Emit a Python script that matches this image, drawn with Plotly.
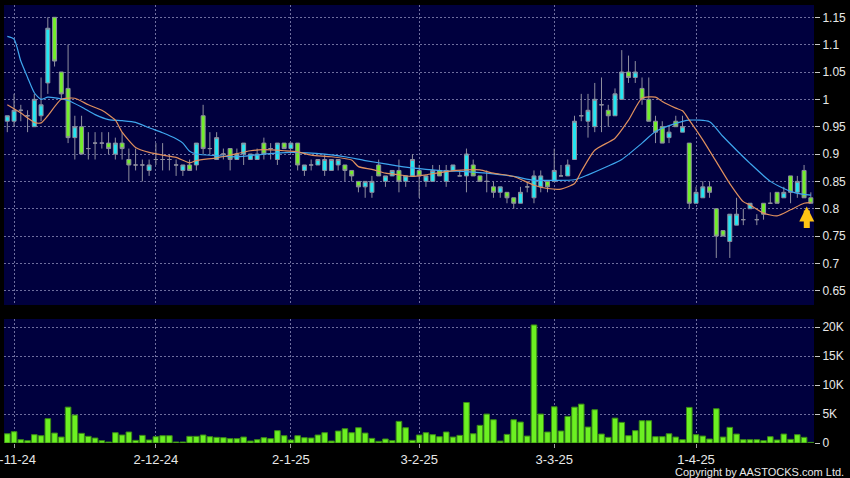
import plotly.graph_objects as go

# ---- data ----
tick_idx = [1, 22, 42, 61, 81, 102]
tick_labels = ["1-11-24", "2-12-24", "2-1-25", "3-2-25", "3-3-25", "1-4-25"]

opens = [0.96, 0.96, 0.98, 0.97, 0.95, 0.97, 1.03, 1.15, 1.05, 1.02,
         0.93, 0.95, 0.91, 0.92, 0.92, 0.92, 0.90, 0.92, 0.89, 0.88,
         0.88, 0.87, 0.89, 0.89, 0.89, 0.88, 0.87, 0.88, 0.88, 0.97,
         0.91, 0.89, 0.90, 0.91, 0.89, 0.90, 0.89, 0.89, 0.92, 0.91,
         0.89, 0.92, 0.91, 0.92, 0.87, 0.88, 0.88, 0.87, 0.87, 0.88,
         0.88, 0.87, 0.85, 0.84, 0.83, 0.88, 0.85, 0.86, 0.87, 0.85,
         0.86, 0.87, 0.85, 0.85, 0.87, 0.85, 0.87, 0.86, 0.86, 0.88,
         0.86, 0.85, 0.84, 0.83, 0.83, 0.82, 0.81, 0.84, 0.82, 0.84,
         0.85, 0.85, 0.86, 0.86, 0.89, 0.97, 0.96, 0.95, 0.99, 0.98,
         0.97, 1.00, 1.05, 1.04, 1.02, 1.00, 0.96, 0.95, 0.93, 0.96,
         0.94, 0.92, 0.81, 0.82, 0.84, 0.80, 0.76, 0.74, 0.77, 0.78,
         0.80, 0.78, 0.81, 0.81, 0.83, 0.82, 0.86, 0.83, 0.87, 0.82]
highs = [0.97, 1.01, 0.99, 0.98, 1.01, 1.04, 1.15, 1.15, 1.05, 1.10,
         0.97, 0.97, 0.94, 0.94, 0.94, 0.94, 0.93, 0.94, 0.91, 0.91,
         0.89, 0.89, 0.92, 0.92, 0.90, 0.89, 0.88, 0.89, 0.92, 0.99,
         0.94, 0.94, 0.91, 0.91, 0.91, 0.92, 0.90, 0.91, 0.93, 0.92,
         0.92, 0.92, 0.92, 0.92, 0.88, 0.89, 0.89, 0.90, 0.89, 0.89,
         0.88, 0.87, 0.85, 0.85, 0.86, 0.89, 0.86, 0.87, 0.89, 0.86,
         0.90, 0.88, 0.86, 0.88, 0.88, 0.88, 0.88, 0.87, 0.91, 0.89,
         0.86, 0.87, 0.85, 0.84, 0.83, 0.82, 0.84, 0.85, 0.87, 0.87,
         0.85, 0.91, 0.88, 0.89, 0.97, 1.01, 1.01, 1.03, 1.04, 0.99,
         1.02, 1.09, 1.08, 1.07, 1.04, 1.04, 0.97, 0.96, 0.95, 0.97,
         0.97, 0.92, 0.84, 0.85, 0.85, 0.80, 0.76, 0.79, 0.82, 0.80,
         0.81, 0.79, 0.81, 0.83, 0.83, 0.84, 0.86, 0.86, 0.88, 0.83]
lows = [0.94, 0.95, 0.96, 0.94, 0.95, 0.96, 1.01, 1.06, 1.00, 0.92,
        0.89, 0.90, 0.89, 0.89, 0.91, 0.90, 0.89, 0.89, 0.85, 0.87,
        0.85, 0.86, 0.88, 0.87, 0.87, 0.86, 0.86, 0.87, 0.87, 0.90,
        0.90, 0.89, 0.89, 0.87, 0.89, 0.88, 0.89, 0.89, 0.89, 0.89,
        0.88, 0.91, 0.91, 0.87, 0.86, 0.87, 0.88, 0.86, 0.87, 0.87,
        0.85, 0.85, 0.83, 0.82, 0.82, 0.86, 0.84, 0.86, 0.83, 0.84,
        0.86, 0.82, 0.84, 0.85, 0.86, 0.84, 0.87, 0.86, 0.83, 0.86,
        0.85, 0.83, 0.82, 0.82, 0.81, 0.80, 0.81, 0.83, 0.81, 0.83,
        0.83, 0.85, 0.86, 0.86, 0.89, 0.96, 0.93, 0.94, 0.94, 0.95,
        0.97, 1.00, 1.03, 1.03, 0.99, 0.96, 0.92, 0.92, 0.92, 0.95,
        0.94, 0.80, 0.81, 0.82, 0.82, 0.71, 0.75, 0.71, 0.77, 0.77,
        0.80, 0.77, 0.78, 0.81, 0.81, 0.82, 0.81, 0.82, 0.82, 0.81]
closes = [0.97, 0.98, 0.98, 0.97, 1.00, 0.99, 1.13, 1.07, 1.01, 0.93,
          0.95, 0.90, 0.91, 0.92, 0.92, 0.91, 0.92, 0.91, 0.88, 0.88,
          0.88, 0.88, 0.89, 0.89, 0.89, 0.88, 0.88, 0.87, 0.92, 0.91,
          0.91, 0.93, 0.90, 0.89, 0.90, 0.92, 0.90, 0.90, 0.90, 0.91,
          0.92, 0.91, 0.92, 0.88, 0.88, 0.88, 0.89, 0.89, 0.89, 0.89,
          0.87, 0.86, 0.84, 0.85, 0.85, 0.86, 0.86, 0.87, 0.85, 0.86,
          0.89, 0.86, 0.86, 0.87, 0.86, 0.87, 0.88, 0.86, 0.90, 0.86,
          0.85, 0.85, 0.83, 0.84, 0.82, 0.81, 0.83, 0.84, 0.86, 0.86,
          0.84, 0.87, 0.86, 0.88, 0.96, 0.97, 0.98, 1.00, 0.99, 0.97,
          1.01, 1.05, 1.04, 1.05, 1.00, 0.96, 0.94, 0.92, 0.94, 0.95,
          0.95, 0.81, 0.83, 0.84, 0.83, 0.75, 0.75, 0.79, 0.79, 0.78,
          0.81, 0.78, 0.79, 0.81, 0.81, 0.83, 0.83, 0.85, 0.82, 0.81]
volume_k = [1.6, 1.95, 0.57, 0.4, 1.44, 1.26, 4.2, 1.72, 1.03, 6.2,
            4.83, 1.67, 1.15, 0.86, 0.4, 0.17, 1.78, 1.38, 1.9, 0.46,
            1.32, 0.52, 1.09, 1.26, 1.26, 0.17, 0.17, 1.15, 1.15, 1.38,
            1.09, 0.98, 0.92, 0.75, 0.75, 1.03, 0.34, 0.57, 0.92, 0.75,
            2.13, 1.26, 0.52, 1.26, 0.92, 0.86, 1.38, 1.78, 0.34, 2.07,
            2.47, 1.78, 2.64, 1.72, 0.8, 0.29, 0.69, 0.4, 3.74, 2.64,
            0.46, 1.38, 1.78, 1.44, 1.09, 1.9, 1.03, 1.32, 7.0, 1.6,
            3.05, 5.0, 4.02, 0.34, 1.49, 4.02, 3.62, 1.2, 20.4, 5.0,
            1.9, 6.26, 2.07, 4.6, 6.2, 6.72, 2.76, 5.75, 1.55, 0.98,
            4.3, 3.56, 1.26, 2.13, 3.85, 3.85, 1.09, 1.09, 1.6, 1.03,
            0.57, 6.15, 1.44, 1.2, 0.69, 5.92, 1.03, 2.7, 1.55, 0.57,
            0.57, 0.57, 0.4, 1.09, 0.52, 1.55, 0.63, 1.44, 0.98, 0.11]

ma_short_idx = [0, 2, 4, 5, 6, 8, 10, 12, 14, 16, 17, 19, 21, 23, 25, 27, 28,
                31, 33, 36, 38, 41, 43, 45, 48, 51, 52, 54, 56, 58, 60, 62,
                65, 68, 70, 72, 75, 78, 80, 82, 84, 85, 87, 90, 92, 94, 96,
                97, 99, 100, 101, 103, 105, 107, 109, 110, 112, 114, 116,
                118, 119]
ma_short = [0.99, 0.975, 0.958, 0.957, 0.97, 1.0, 1.002, 0.99, 0.98, 0.962,
            0.94, 0.912, 0.903, 0.898, 0.894, 0.884, 0.888, 0.893, 0.898,
            0.906, 0.908, 0.906, 0.904, 0.898, 0.895, 0.889, 0.877, 0.872,
            0.865, 0.862, 0.859, 0.862, 0.868, 0.871, 0.871, 0.865, 0.859,
            0.843, 0.837, 0.836, 0.846, 0.868, 0.907, 0.929, 0.962, 1.002,
            1.004, 0.996, 0.984, 0.979, 0.962, 0.926, 0.886, 0.846, 0.813,
            0.807, 0.792, 0.787, 0.798, 0.81, 0.811]
ma_long_idx = [0, 1, 2, 3, 4, 5, 6, 8, 9, 11, 13, 15, 17, 19, 21, 23, 25, 26,
               27, 28, 31, 34, 38, 42, 47, 50, 53, 56, 59, 62, 65, 68, 71,
               75, 78, 80, 84, 86, 89, 91, 94, 96, 99, 101, 104, 106, 108,
               110, 113, 115, 117, 119]
ma_long = [1.115, 1.11, 1.07, 1.04, 1.012, 1.0, 1.004, 1.001, 0.998, 0.986,
           0.972, 0.963, 0.961, 0.958, 0.948, 0.939, 0.928, 0.92, 0.905,
           0.9, 0.897, 0.895, 0.9, 0.903, 0.9, 0.895, 0.888, 0.882, 0.876,
           0.872, 0.869, 0.868, 0.865, 0.859, 0.852, 0.852, 0.853, 0.862,
           0.878, 0.89, 0.92, 0.941, 0.956, 0.962, 0.959, 0.932, 0.907,
           0.883, 0.85, 0.837, 0.828, 0.825]

price_ticks = [0.65, 0.7, 0.75, 0.8, 0.85, 0.9, 0.95, 1.0, 1.05, 1.1, 1.15]
price_tick_labels = ["0.65", "0.7", "0.75", "0.8", "0.85", "0.9", "0.95",
                     "1", "1.05", "1.1", "1.15"]
vol_ticks = [0, 5, 10, 15, 20]
vol_tick_labels = ["0", "5K", "10K", "15K", "20K"]

# ---- styling ----
NAVY = "#00003E"
GRID = "#6E6E9E"
TXT = "#E8E8E8"
FONT = "Liberation Sans, Arial, sans-serif"
CYAN = "#22E6F2"
LIME = "#72EE2A"
EDGE = "#8E8E9E"

idx = list(range(len(opens)))
x_range = [-0.49, len(opens) - 0.53]

fig = go.Figure()
fig.add_trace(go.Candlestick(
    x=idx, open=opens, high=highs, low=lows, close=closes,
    increasing=dict(line=dict(color=EDGE, width=1), fillcolor=CYAN),
    decreasing=dict(line=dict(color=EDGE, width=1), fillcolor=LIME),
    whiskerwidth=0, showlegend=False, hoverinfo="skip",
    xaxis="x", yaxis="y"))
fig.add_trace(go.Scatter(
    x=ma_long_idx, y=ma_long, mode="lines",
    line=dict(color="#3EA6EE", width=1.2, shape="spline", smoothing=0.6),
    showlegend=False, hoverinfo="skip", xaxis="x", yaxis="y"))
fig.add_trace(go.Scatter(
    x=ma_short_idx, y=ma_short, mode="lines",
    line=dict(color="#E0905E", width=1.2, shape="spline", smoothing=0.6),
    showlegend=False, hoverinfo="skip", xaxis="x", yaxis="y"))
fig.add_trace(go.Bar(
    x=idx, y=volume_k,
    marker=dict(color="#6CF022", line=dict(color="#3A8A16", width=1)),
    showlegend=False, hoverinfo="skip", xaxis="x2", yaxis="y2"))

# marker arrow under the last candle
fig.add_annotation(
    x=idx[-1] - 0.6, y=lows[-1] - 0.006, xref="x", yref="y",
    ax=0, ay=23, showarrow=True, arrowhead=2, arrowsize=0.5,
    arrowwidth=6, arrowcolor="#FFC414", text="")

fig.add_annotation(
    text="Copyright by AASTOCKS.com Ltd.", xref="paper", yref="paper",
    x=1.0395, y=-0.066, xanchor="right", yanchor="middle", showarrow=False,
    font=dict(family=FONT, size=11, color=TXT))

xa_common = dict(range=x_range, tickvals=tick_idx, showgrid=True,
                 gridcolor=GRID, griddash="2px,2px", gridwidth=1,
                 zeroline=False, showline=False, automargin=False)
ya_common = dict(side="right", ticks="outside", ticklen=5,
                 tickcolor="#C8C8C8", showgrid=True, gridcolor=GRID,
                 griddash="2px,2px", zeroline=False, showline=False,
                 automargin=False,
                 tickfont=dict(family=FONT, size=12, color=TXT))
fig.update_layout(
    width=850, height=478, autosize=False,
    margin=dict(l=4, r=36, t=5, b=35, autoexpand=False),
    paper_bgcolor="#000000", plot_bgcolor=NAVY,
    boxgap=0.16, bargap=0.17,
    font=dict(family=FONT, color=TXT),
    xaxis=dict(domain=[0, 1], anchor="y", showticklabels=False, ticks="",
               rangeslider=dict(visible=False), **xa_common),
    xaxis2=dict(domain=[0, 1], anchor="y2", ticktext=tick_labels,
                ticks="outside", ticklen=4, tickcolor="#A0A0A0",
                ticklabeloverflow="allow",
                tickfont=dict(family=FONT, size=13, color=TXT), **xa_common),
    yaxis=dict(domain=[0.3151, 1], range=[0.624, 1.1725], anchor="x",
               tickvals=price_ticks, ticktext=price_tick_labels, **ya_common),
    yaxis2=dict(domain=[0, 0.2831], range=[0, 21.43], anchor="x2",
                tickvals=vol_ticks, ticktext=vol_tick_labels, **ya_common),
)

fig.write_html("out.html",
               config={"displayModeBar": False, "staticPlot": True},
               post_script="document.body.style.margin='0';"
                           "document.body.style.overflow='hidden';")
